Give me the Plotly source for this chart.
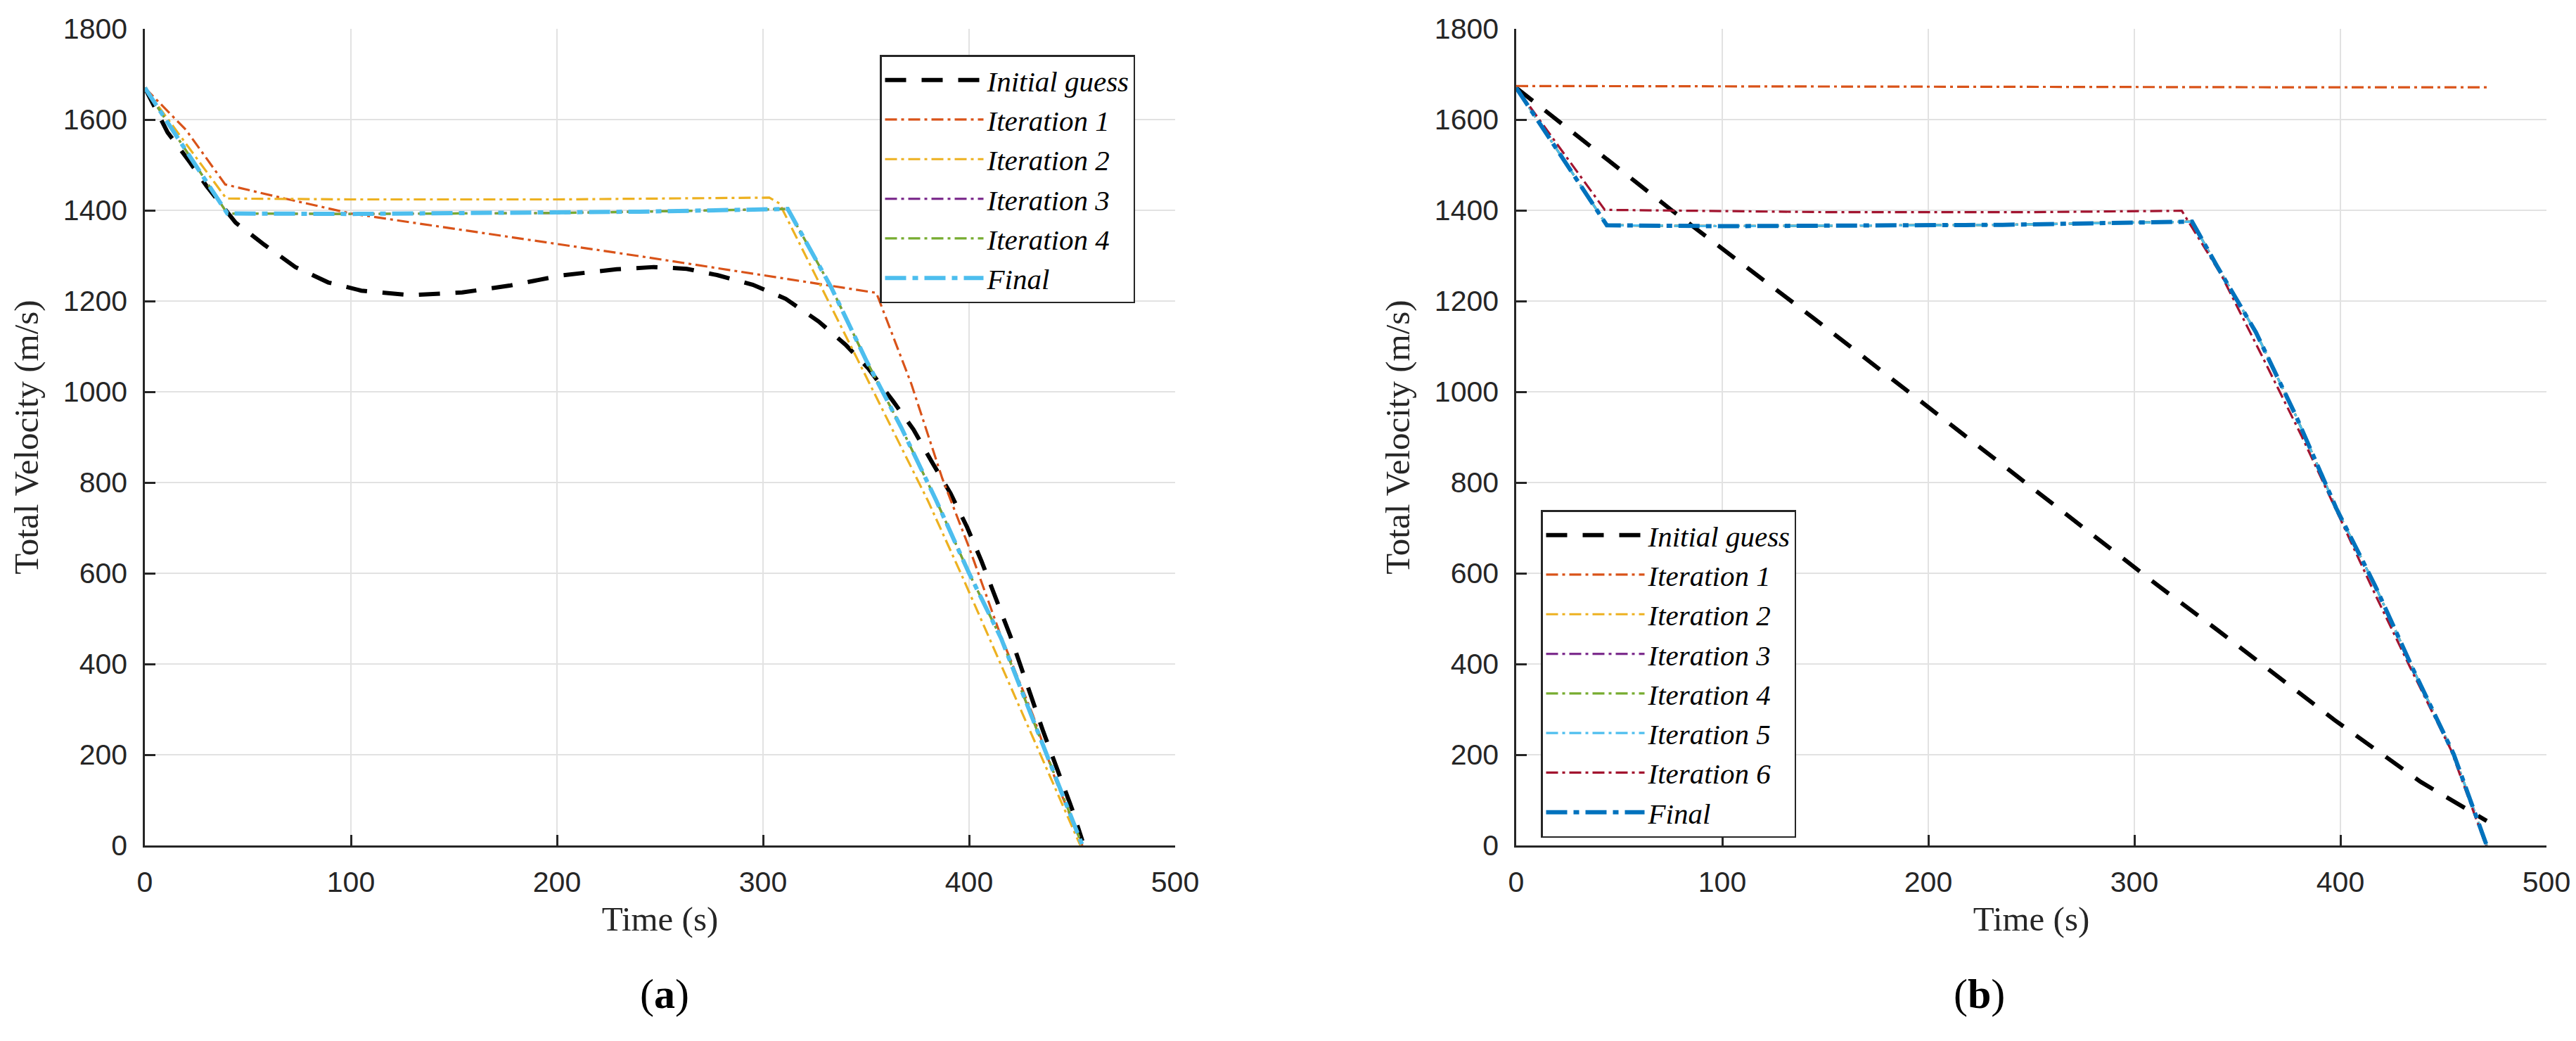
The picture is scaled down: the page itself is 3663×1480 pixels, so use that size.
import plotly.graph_objects as go

# ---- panel (a) ----
t_init_a = [0, 11, 22, 30, 44, 58, 73, 89, 105, 129, 154, 177, 203, 229, 247, 263, 278, 295, 311, 327, 340, 351, 363, 373, 382, 391, 399, 406, 420, 436, 450, 455]
v_init_a = [1670, 1572, 1505, 1453, 1373, 1324, 1275, 1241, 1223, 1213, 1219, 1234, 1257, 1270, 1275, 1271, 1257, 1236, 1205, 1155, 1104, 1052, 980, 917, 845, 776, 702, 627, 462, 251, 80, 10]

t_it1_a = [0, 20, 39, 64, 100, 199, 240, 300, 355, 372, 387, 400, 415, 431, 442, 455]
v_it1_a = [1670, 1577, 1457, 1430, 1393, 1327, 1299, 1257, 1218, 1017, 809, 657, 467, 287, 144, 0]

t_it2_a = [0, 39.5, 100, 200, 303, 308, 346, 380, 396, 427, 454]
v_it2_a = [1670, 1426, 1424, 1424, 1428, 1415, 1070, 760, 600, 280, 0]

t_fin_a = [0, 40, 100, 199, 240, 312, 333, 350, 367, 384, 400, 415.5, 431, 455]
v_fin_a = [1670, 1393, 1392, 1394, 1397, 1403, 1231, 1070, 922, 761, 600, 457, 277, 0]

# ---- panel (b) ----
t_init_b = [0, 43, 75.5, 145, 230, 312, 340, 397, 439, 471]
v_init_b = [1670, 1515, 1400, 1160, 859, 571, 476, 277, 140, 54]

t_it1_b = [0, 100, 200, 300, 400, 471]
v_it1_b = [1674, 1673, 1672, 1672, 1671, 1671]

t_it6_b = [0, 43, 150, 250, 323, 342, 361.5, 381, 399.6, 417, 434, 453.6, 470.6]
v_it6_b = [1670, 1401, 1396, 1396, 1399, 1259, 1083, 904, 723, 552, 391, 211, 0]

t_fin_b = [0, 44, 100, 236, 300, 328, 340, 359, 378.5, 398, 417, 435, 455, 471]
v_fin_b = [1670, 1367, 1365, 1368, 1373, 1375, 1278, 1131, 946, 743, 571, 391, 201, 0]

x_ticks = [0, 100, 200, 300, 400, 500]
y_ticks = [0, 200, 400, 600, 800, 1000, 1200, 1400, 1600, 1800]

# matlab default colours
c_blue = '#0072BD'
c_orange = '#D95319'
c_yellow = '#EDB120'
c_purple = '#7E2F8E'
c_green = '#77AC30'
c_cyan = '#4DBEEE'
c_red = '#A2142F'

dashed = '30px,22px'
dashdot = '17px,6px,4px,6px'
dashdot_thick = '30px,9px,8px,9px'
thin = 3.2
thick = 6

fig = go.Figure()


def add_line(t, v, name, color, width, dash, xa, ya, leg):
    fig.add_trace(go.Scatter(
        x=t, y=v, mode='lines', name=name,
        line=dict(color=color, width=width, dash=dash),
        xaxis=xa, yaxis=ya, legend=leg,
    ))


# (a)
add_line(t_init_a, v_init_a, 'Initial guess', 'black', thick, dashed, 'x', 'y', 'legend')
add_line(t_it1_a, v_it1_a, 'Iteration 1', c_orange, thin, dashdot, 'x', 'y', 'legend')
add_line(t_it2_a, v_it2_a, 'Iteration 2', c_yellow, thin, dashdot, 'x', 'y', 'legend')
add_line(t_fin_a, v_fin_a, 'Iteration 3', c_purple, thin, dashdot, 'x', 'y', 'legend')
add_line(t_fin_a, v_fin_a, 'Iteration 4', c_green, thin, dashdot, 'x', 'y', 'legend')
add_line(t_fin_a, v_fin_a, 'Final', c_cyan, thick, dashdot_thick, 'x', 'y', 'legend')

# (b)
add_line(t_init_b, v_init_b, 'Initial guess', 'black', thick, dashed, 'x2', 'y2', 'legend2')
add_line(t_it1_b, v_it1_b, 'Iteration 1', c_orange, thin, dashdot, 'x2', 'y2', 'legend2')
add_line(t_fin_b, v_fin_b, 'Iteration 2', c_yellow, thin, dashdot, 'x2', 'y2', 'legend2')
add_line(t_fin_b, v_fin_b, 'Iteration 3', c_purple, thin, dashdot, 'x2', 'y2', 'legend2')
add_line(t_fin_b, v_fin_b, 'Iteration 4', c_green, thin, dashdot, 'x2', 'y2', 'legend2')
add_line(t_fin_b, v_fin_b, 'Iteration 5', c_cyan, thin, dashdot, 'x2', 'y2', 'legend2')
add_line(t_it6_b, v_it6_b, 'Iteration 6', c_red, thin, dashdot, 'x2', 'y2', 'legend2')
add_line(t_fin_b, v_fin_b, 'Final', c_blue, thick, dashdot_thick, 'x2', 'y2', 'legend2')

W, H = 3663, 1480
ax_col = '#262626'
grid_col = '#e2e2e2'

xa = dict(
    range=[0, 500], tickvals=x_ticks, showline=True, linecolor=ax_col, linewidth=2.5,
    ticks='inside', ticklen=15, tickwidth=2.5, tickcolor=ax_col,
    showgrid=True, gridcolor=grid_col, gridwidth=2, zeroline=False,
    tickfont=dict(family='Liberation Sans', size=41, color=ax_col),
    ticklabelstandoff=14,
    title=dict(text='Time (s)', font=dict(family='Liberation Serif', size=49, color=ax_col), standoff=13),
    automargin=False,
)
ya = dict(
    range=[0, 1800], tickvals=y_ticks, showline=True, linecolor=ax_col, linewidth=2.5,
    ticks='inside', ticklen=15, tickwidth=2.5, tickcolor=ax_col,
    showgrid=True, gridcolor=grid_col, gridwidth=2, zeroline=False,
    tickfont=dict(family='Liberation Sans', size=41, color=ax_col),
    ticklabelstandoff=14,
    title=dict(text='Total Velocity (m/s)', font=dict(family='Liberation Serif', size=49, color=ax_col), standoff=20),
    automargin=False,
)

leg_style = dict(
    xanchor='left', yanchor='top', bgcolor='white', bordercolor=ax_col, borderwidth=2.5,
    font=dict(family='Liberation Serif', size=41, color='black', style='italic'),
    itemwidth=140, tracegroupgap=0,
)

fig.update_layout(
    width=W, height=H,
    margin=dict(l=0, r=0, t=0, b=0),
    paper_bgcolor='white', plot_bgcolor='white',
    showlegend=True,
    xaxis=dict(xa, domain=[198 / W, 1663 / W], anchor='y'),
    yaxis=dict(ya, domain=[1 - 1194 / H, 1 - 33 / H], anchor='x'),
    xaxis2=dict(xa, domain=[2148 / W, 3613 / W], anchor='y2'),
    yaxis2=dict(ya, domain=[1 - 1194 / H, 1 - 33 / H], anchor='x2'),
    legend=dict(leg_style, x=1243 / W, y=1 - 70 / H),
    legend2=dict(leg_style, x=2183 / W, y=1 - 717 / H),
    annotations=[
        dict(text='(<b>a</b>)', x=900 / W, y=1 - 1440 / H, xref='paper', yref='paper',
             showarrow=False, font=dict(family='Liberation Serif', size=60, color='black')),
        dict(text='(<b>b</b>)', x=2845 / W, y=1 - 1440 / H, xref='paper', yref='paper',
             showarrow=False, font=dict(family='Liberation Serif', size=60, color='black')),
    ],
)

fig.write_html('out.html')
